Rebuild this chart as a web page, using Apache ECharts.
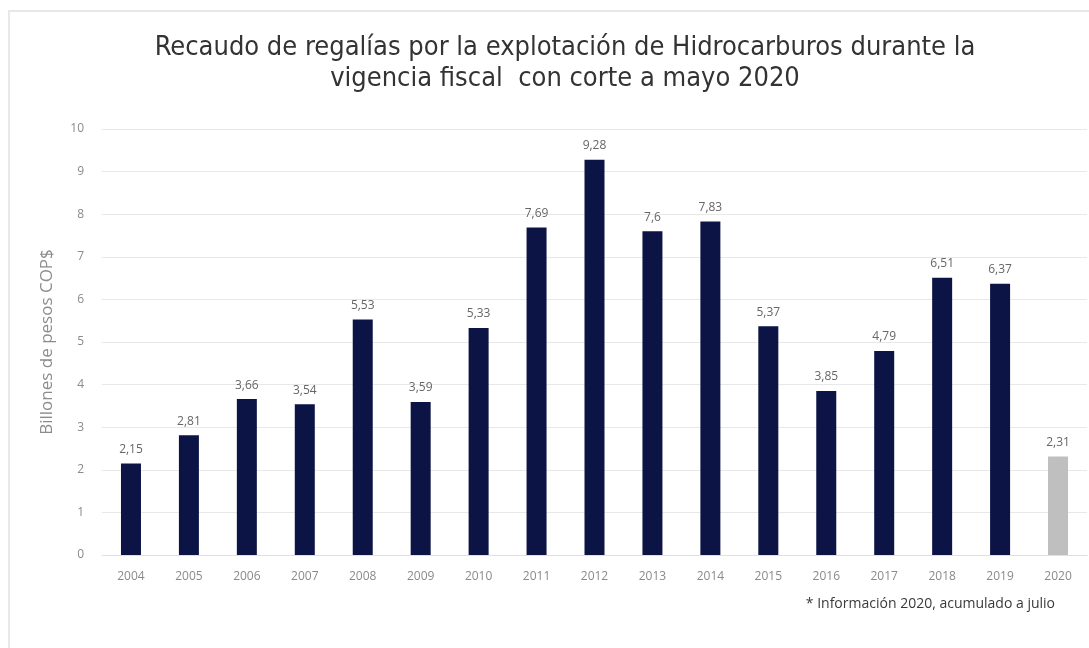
<!DOCTYPE html>
<html>
<head>
<meta charset="utf-8">
<script src="https://cdn.jsdelivr.net/npm/echarts@6/dist/echarts.min.js"></script>
<style>
  html, body { margin: 0; padding: 0; background: #ffffff; }
  #frame { position: absolute; left: 8px; top: 10px; width: 1081px; height: 638px;
           border-left: 2px solid #e8e8e8; border-top: 2px solid #e8e8e8; box-sizing: border-box; }
  #chart { width: 1089px; height: 648px; position: absolute; left: 0; top: 0; }
</style>
</head>
<body>
<div id="frame"></div>
<div id="chart"></div>
<script>
// Años de la serie
const years = ['2004','2005','2006','2007','2008','2009','2010','2011','2012','2013','2014','2015','2016','2017','2018','2019','2020'];
// Recaudo anual en billones de pesos COP$
const recaudo = [2.15, 2.81, 3.66, 3.54, 5.53, 3.59, 5.33, 7.69, 9.28, 7.6, 7.83, 5.37, 3.85, 4.79, 6.51, 6.37, 2.31];
// Año parcial (acumulado a julio) se resalta en gris
const partialYear = '2020';

const navy = '#0c1445';
const grey = '#bfbfbf';
const fontFam = '"Open Sans", "DejaVu Sans", sans-serif';

const chart = echarts.init(document.getElementById('chart'), null, { renderer: 'canvas' });

chart.setOption({
  backgroundColor: 'transparent',
  animation: false,
  title: {
    text: 'Recaudo de regalías por la explotación de Hidrocarburos durante la\nvigencia fiscal  con corte a mayo 2020',
    left: 560,
    textAlign: 'center',
    top: 27,
    textStyle: {
      fontFamily: '"Liberation Sans Narrow", "DejaVu Sans Condensed", sans-serif',
      fontSize: 27,
      fontWeight: 'normal',
      color: '#333333',
      lineHeight: 31
    }
  },
  graphic: [{
    type: 'text',
    right: 34,
    top: 597,
    style: {
      text: '* Información 2020, acumulado a julio',
      font: '14px "Open Sans", sans-serif',
      fill: '#3a3a3a'
    }
  }],
  grid: { left: 102, right: 2, top: 129, bottom: 93 },
  xAxis: {
    type: 'category',
    data: years,
    axisLine: { show: true, lineStyle: { color: '#e0e0e0' } },
    axisTick: { show: false },
    axisLabel: { color: '#8a8a8a', fontSize: 12, fontFamily: fontFam, margin: 16 }
  },
  yAxis: {
    type: 'value',
    min: 0, max: 10, interval: 1,
    name: 'Billones de pesos COP$',
    nameLocation: 'middle',
    nameGap: 46,
    nameTextStyle: { color: '#8c8c8c', fontSize: 17, fontFamily: fontFam },
    axisLine: { show: false },
    axisTick: { show: false },
    axisLabel: { color: '#8a8a8a', fontSize: 12, fontFamily: fontFam, margin: 18 },
    splitLine: { lineStyle: { color: '#e8e8e8', width: 1 } }
  },
  series: [{
    type: 'bar',
    data: recaudo.map((v, i) => ({
      value: v,
      itemStyle: { color: years[i] === partialYear ? grey : navy }
    })),
    barWidth: 20,
    label: {
      show: true,
      position: 'top',
      distance: 8,
      color: '#666666',
      fontSize: 12,
      fontFamily: fontFam,
      formatter: p => String(p.value).replace('.', ',')
    }
  }]
});
</script>
</body>
</html>
